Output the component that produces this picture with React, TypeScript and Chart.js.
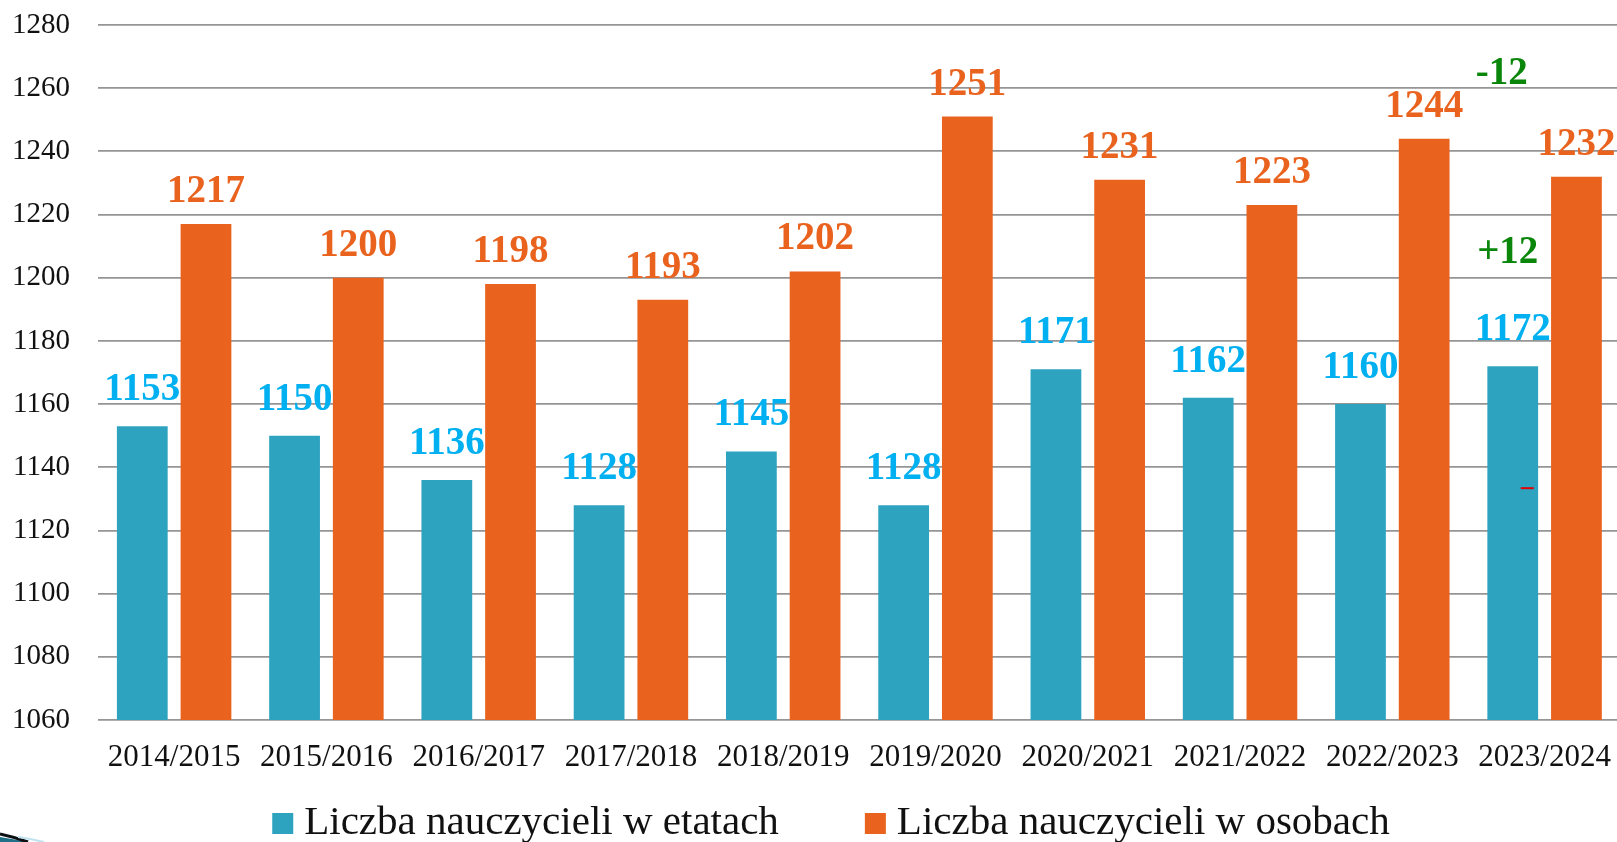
import React, { useEffect, useRef } from "react";
import { Chart, registerables } from "chart.js";

Chart.register(...registerables);

const categories = [
  "2014/2015",
  "2015/2016",
  "2016/2017",
  "2017/2018",
  "2018/2019",
  "2019/2020",
  "2020/2021",
  "2021/2022",
  "2022/2023",
  "2023/2024",
];
const teachersFte = [1153, 1150, 1136, 1128, 1145, 1128, 1171, 1162, 1160, 1172];
const teachersPersons = [1217, 1200, 1198, 1193, 1202, 1251, 1231, 1223, 1244, 1232];
const seriesNames = ["Liczba nauczycieli w etatach", "Liczba nauczycieli w osobach"];
const yMin = 1060;
const yMax = 1280;
const yStep = 20;

const TEAL = "#2da3c0";
const ORANGE = "#e9631f";
const TEAL_LABEL = "#00b0f0";
const ORANGE_LABEL = "#e9631f";
const GREEN = "#0a870a";
const FONT = '"Liberation Serif", "Times New Roman", serif';

const CANVAS_W = 1630;
const CANVAS_H = 860;

const valueLabels = {
  id: "valueLabels",
  afterDatasetsDraw(chart: any) {
    const ctx = chart.ctx;
    ctx.save();
    ctx.font = `bold 39px ${FONT}`;
    ctx.textAlign = "center";
    ctx.textBaseline = "alphabetic";
    const colors = [TEAL_LABEL, ORANGE_LABEL];
    const gaps = [26, 22];
    chart.data.datasets.forEach((ds: any, di: number) => {
      const meta = chart.getDatasetMeta(di);
      meta.data.forEach((bar: any, i: number) => {
        ctx.fillStyle = colors[di];
        ctx.fillText(String(ds.data[i]), bar.x, bar.y - gaps[di]);
      });
    });

    // year-over-year differences for the last school year
    const n = categories.length;
    const fteDiff = teachersFte[n - 1] - teachersFte[n - 2];
    const personsDiff = teachersPersons[n - 1] - teachersPersons[n - 2];
    const fmt = (d: number) => (d > 0 ? "+" + d : String(d));
    const fteBar: any = chart.getDatasetMeta(0).data[n - 1];
    const personsBar: any = chart.getDatasetMeta(1).data[n - 1];
    ctx.fillStyle = GREEN;
    ctx.fillText(fmt(fteDiff), fteBar.x - 5, fteBar.y - 103);
    ctx.fillText(fmt(personsDiff), fteBar.x - 11, personsBar.y - 93);

    // small red mark on the last teal bar
    ctx.strokeStyle = "#e00000";
    ctx.lineWidth = 2;
    ctx.beginPath();
    ctx.moveTo(fteBar.x + 8, fteBar.y + 122);
    ctx.lineTo(fteBar.x + 21, fteBar.y + 122);
    ctx.stroke();
    ctx.restore();
  },
};

const customLegend = {
  id: "customLegend",
  afterDraw(chart: any) {
    const ctx = chart.ctx;
    ctx.save();
    ctx.font = `41px ${FONT}`;
    ctx.textBaseline = "alphabetic";
    ctx.textAlign = "left";
    const box = 21;
    const boxGap = 11;
    const itemGap = 86;
    const items = chart.data.datasets.map((ds: any) => ({
      text: ds.label,
      color: ds.backgroundColor,
      w: ctx.measureText(ds.label).width,
    }));
    const total =
      items.reduce((s: number, it: any) => s + box + boxGap + it.w, 0) + itemGap * (items.length - 1);
    let x = 831 - total / 2;
    const baseline = 834;
    items.forEach((it: any) => {
      ctx.fillStyle = it.color;
      ctx.fillRect(x, baseline - box, box, box);
      ctx.fillStyle = "#111";
      ctx.fillText(it.text, x + box + boxGap, baseline);
      x += box + boxGap + it.w + itemGap;
    });

    // slide decoration in the bottom-left corner
    ctx.fillStyle = "#1f6f86";
    ctx.beginPath();
    ctx.moveTo(0, 837);
    ctx.quadraticCurveTo(14, 839, 30, 843);
    ctx.lineTo(0, 843);
    ctx.closePath();
    ctx.fill();
    ctx.strokeStyle = "#0b0f14";
    ctx.lineWidth = 3;
    ctx.beginPath();
    ctx.moveTo(0, 834);
    ctx.quadraticCurveTo(14, 837, 28, 842);
    ctx.stroke();
    ctx.strokeStyle = "#bfe3ee";
    ctx.lineWidth = 2;
    ctx.beginPath();
    ctx.moveTo(18, 837);
    ctx.quadraticCurveTo(32, 839, 44, 842);
    ctx.stroke();
    ctx.restore();
  },
};

export default function App() {
  const canvasRef = useRef<HTMLCanvasElement | null>(null);

  useEffect(() => {
    if (!canvasRef.current) return;
    const chart = new Chart(canvasRef.current, {
      type: "bar",
      data: {
        labels: categories,
        datasets: [
          {
            label: seriesNames[0],
            data: teachersFte,
            backgroundColor: TEAL,
            borderWidth: 0,
            categoryPercentage: 0.8366,
            barPercentage: 0.797,
          },
          {
            label: seriesNames[1],
            data: teachersPersons,
            backgroundColor: ORANGE,
            borderWidth: 0,
            categoryPercentage: 0.8366,
            barPercentage: 0.797,
          },
        ],
      },
      options: {
        responsive: false,
        animation: false,
        devicePixelRatio: 1,
        layout: { padding: { top: 25, left: 0, right: 2, bottom: 84 } },
        plugins: {
          legend: { display: false },
          tooltip: { enabled: false },
        },
        scales: {
          x: {
            grid: { display: false, drawTicks: false },
            border: { display: false },
            ticks: {
              color: "#111",
              font: { family: FONT, size: 31 },
              padding: 19,
              maxRotation: 0,
              autoSkip: false,
            },
            afterFit: (scale: any) => {
              scale.height = 56;
            },
          },
          y: {
            min: yMin,
            max: yMax,
            ticks: {
              stepSize: yStep,
              color: "#111",
              font: { family: FONT, size: 29 },
              padding: 28,
              callback: (v: any) => String(v),
            },
            grid: { color: "#959595", lineWidth: 1.8, drawTicks: false },
            border: { display: false },
            afterFit: (scale: any) => {
              scale.width = 98;
              scale.paddingTop = 0;
              scale.paddingBottom = 0;
            },
          },
        },
      },
      plugins: [valueLabels, customLegend],
    });
    return () => chart.destroy();
  }, []);

  return (
    <div
      style={{
        position: "fixed",
        left: 0,
        top: 0,
        width: 1617,
        height: 842,
        overflow: "hidden",
        background: "#ffffff",
      }}
    >
      <canvas
        ref={canvasRef}
        width={CANVAS_W}
        height={CANVAS_H}
        style={{ display: "block", width: CANVAS_W, height: CANVAS_H }}
      />
    </div>
  );
}
